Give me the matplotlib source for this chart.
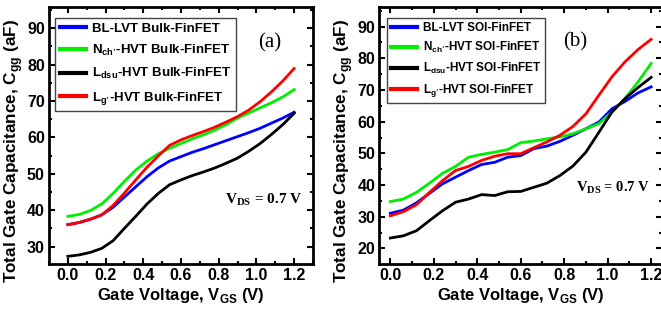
import numpy as np
import matplotlib
matplotlib.use("Agg")
import matplotlib.pyplot as plt
from matplotlib.ticker import MultipleLocator

plt.rcParams['font.family'] = ['Liberation Sans', 'DejaVu Sans']
plt.rcParams['font.weight'] = 'bold'

# gate voltage sweep (V)
vgs = [0.00, 0.06, 0.12, 0.18, 0.24, 0.30, 0.36, 0.42, 0.48, 0.54, 0.60,
       0.66, 0.72, 0.78, 0.84, 0.90, 0.96, 1.02, 1.08, 1.14, 1.20]

# ---------- Bulk-FinFET Cgg (aF) ----------
bulk_bl = [36.0, 36.6, 37.5, 38.7, 40.8, 43.6, 46.4, 49.2, 51.6, 53.5, 54.7,
           55.9, 56.9, 58.0, 59.1, 60.2, 61.3, 62.5, 63.9, 65.3, 66.9]
bulk_nch = [38.3, 38.8, 39.9, 41.7, 44.6, 47.9, 51.0, 53.5, 55.5, 57.0, 58.3,
            59.6, 60.7, 62.0, 63.5, 65.3, 66.7, 68.1, 69.5, 71.1, 73.1]
bulk_ldsu = [27.3, 27.7, 28.4, 29.5, 31.6, 35.0, 38.3, 41.7, 44.6, 47.0, 48.3,
             49.5, 50.5, 51.6, 52.9, 54.3, 56.2, 58.3, 60.8, 63.5, 66.6]
bulk_lg = [36.0, 36.6, 37.5, 38.7, 41.3, 44.7, 48.3, 51.8, 54.9, 57.8, 59.3,
           60.5, 61.6, 62.8, 64.2, 65.7, 67.5, 69.8, 72.5, 75.5, 78.9]

# ---------- SOI-FinFET Cgg (aF) ----------
soi_bl = [31.1, 32.1, 34.4, 37.4, 40.4, 42.5, 44.6, 46.5, 47.2, 48.8, 49.3,
          51.5, 52.3, 53.8, 55.7, 57.8, 59.9, 64.1, 66.4, 69.1, 71.0]
soi_nch = [34.8, 35.6, 37.7, 40.6, 43.7, 45.9, 48.8, 49.7, 50.4, 51.2, 53.4,
           53.9, 54.6, 55.2, 56.2, 57.8, 59.4, 63.1, 67.3, 72.6, 78.4]
soi_ldsu = [23.3, 24.0, 25.6, 28.8, 31.9, 34.6, 35.6, 37.0, 36.7, 37.9, 38.0,
            39.3, 40.6, 43.0, 46.0, 50.4, 56.7, 63.1, 67.3, 70.8, 74.0]
soi_lg = [30.3, 31.6, 33.8, 37.7, 41.4, 44.6, 45.9, 47.8, 49.1, 49.9, 49.9,
          51.8, 53.6, 55.7, 58.5, 62.5, 68.4, 74.2, 78.9, 82.8, 86.0]

colors = ['#0000ff', '#00ee00', 'black', '#ff0000']
sub = lambda s: r'$_{\mathdefault{' + s + '}}$'
bulk_labels = ['BL-LVT Bulk-FinFET',
               'N' + sub('ch’') + '-HVT Bulk-FinFET',
               'L' + sub('dsu') + '-HVT Bulk-FinFET',
               'L' + sub('g’') + '-HVT Bulk-FinFET']
soi_labels = ['BL-LVT SOI-FinFET',
              'N' + sub('ch’') + '-HVT SOI-FinFET',
              'L' + sub('dsu') + '-HVT SOI-FinFET',
              'L' + sub('g’') + '-HVT SOI-FinFET']

W, H = 661, 322
fig = plt.figure(figsize=(W / 100, H / 100), dpi=100)
ax1 = fig.add_axes([49 / W, 58 / H, 264 / W, 257 / H])
ax2 = fig.add_axes([379.5 / W, 58 / H, 282.5 / W, 257 / H])


def fig_text(x, y, s, **kw):
    # place text in pixel coordinates (y measured from the top)
    fig.text(x / W, 1 - y / H, s, **kw)


def style(ax, ylim, xlim, ylab_x):
    ax.set_xlim(*xlim)
    ax.set_ylim(*ylim)
    ax.xaxis.set_major_locator(MultipleLocator(0.2))
    ax.xaxis.set_minor_locator(MultipleLocator(0.1))
    ax.yaxis.set_major_locator(MultipleLocator(10))
    ax.yaxis.set_minor_locator(MultipleLocator(5))
    ax.xaxis.set_major_formatter(plt.FuncFormatter(lambda v, p: f'{v:.1f}'))
    ax.tick_params(which='both', direction='in', top=True, right=True,
                   width=1.5, labelsize=11.5)
    ax.tick_params(which='major', length=4, pad=3)
    ax.tick_params(which='minor', length=2)
    for s in ax.spines.values():
        s.set_linewidth(2)
    ax.set_xlabel('Gate Voltage, V' + sub('GS') + ' (V)', fontsize=12,
                  fontweight='bold', labelpad=2)
    ax.set_ylabel('Total Gate Capacitance, C' + sub('gg') + ' (aF)',
                  fontsize=12.3, fontweight='bold')
    ax.yaxis.set_label_coords(ylab_x, 0.44)


def legend(ax, x0, size, hl, sp):
    leg = ax.legend(loc='upper left', bbox_to_anchor=(x0, 0.957), fontsize=size,
                    handlelength=hl, handletextpad=0.45, labelspacing=sp,
                    borderpad=0.35, fancybox=False, framealpha=1,
                    borderaxespad=0)
    leg.get_frame().set_edgecolor('#444444')
    leg.get_frame().set_linewidth(1)
    for l in leg.get_lines():
        l.set_linewidth(3)


# (a) Bulk-FinFET
for y, c, lab in zip([bulk_bl, bulk_nch, bulk_ldsu, bulk_lg], colors, bulk_labels):
    ax1.plot(vgs, y, color=c, lw=2, label=lab)
style(ax1, (25.2, 95.8), (-0.1, 1.3), (25 - 49) / 264)
legend(ax1, 0.023, 9.5, 2.0, 0.62)

# (b) SOI-FinFET
for y, c, lab in zip([soi_bl, soi_nch, soi_ldsu, soi_lg], colors, soi_labels):
    ax2.plot(vgs, y, color=c, lw=2, label=lab)
style(ax2, (15.1, 96.2), (-0.05, 1.25), (355 - 379.5) / 282.5)
legend(ax2, 0.027, 8.5, 2.2, 0.5)

fig_text(270, 43, '(a)', fontsize=15, family='Liberation Serif',
         fontweight='normal', ha='center', va='center')
fig_text(575, 42, '(b)', fontsize=15, family='Liberation Serif',
         fontweight='normal', ha='center', va='center')
fig_text(264, 200, 'V' + sub('DS') + ' = 0.7 V', fontsize=11,
         family='Liberation Serif', fontweight='bold', ha='center', va='center')
fig_text(613, 188, 'V' + sub('DS') + ' = 0.7 V', fontsize=10.5,
         family='Liberation Serif', fontweight='bold', ha='center', va='center')

fig.savefig('out.png', dpi=100)
